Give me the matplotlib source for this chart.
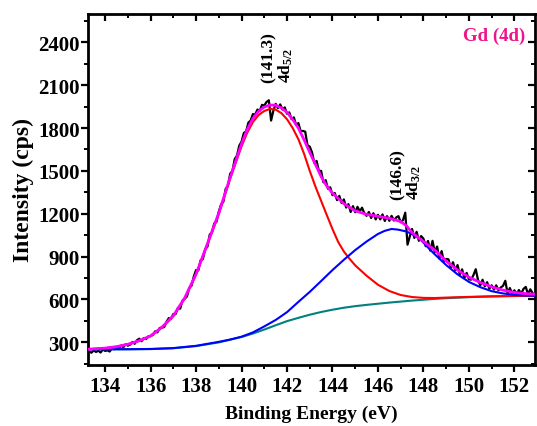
import numpy as np
import matplotlib
matplotlib.use("Agg")
import matplotlib.pyplot as plt
from matplotlib.ticker import MultipleLocator

plt.rcParams['font.family'] = ['Liberation Serif', 'DejaVu Serif']
plt.rcParams['font.weight'] = 'bold'
plt.rcParams['mathtext.fontset'] = 'custom'
plt.rcParams['mathtext.rm'] = 'Liberation Serif:bold'
plt.rcParams['mathtext.default'] = 'rm'

# ---- measured spectrum (counts), 0.1 eV steps starting at 133.3 eV ----
energy_start = 133.3
energy_step = 0.1
counts = [
    232, 226, 242, 231, 240, 227, 248, 238,
    242, 234, 256, 250, 266, 251, 276, 263, 285, 275,
    282, 301, 288, 313, 324, 306, 328, 321, 340, 342,
    350, 376, 368, 399, 401, 406, 442, 468, 464, 497,
    496, 540, 534, 590, 604, 620, 680, 695, 760, 805,
    803, 874, 882, 951, 968, 1053, 1070, 1132, 1144, 1215,
    1265, 1283, 1373, 1395, 1480, 1500, 1583, 1608, 1677, 1705,
    1765, 1777, 1838, 1853, 1898, 1895, 1930, 1920, 1963, 1958,
    1983, 1995, 1853, 1922, 1970, 1940, 1966, 1930, 1945, 1900,
    1910, 1863, 1875, 1822, 1835, 1778, 1780, 1775, 1680, 1670,
    1630, 1555, 1570, 1500, 1500, 1420, 1435, 1375, 1385, 1330,
    1345, 1295, 1325, 1275, 1300, 1243, 1267, 1212, 1253, 1210,
    1248, 1217, 1242, 1203, 1185, 1212, 1170, 1203, 1160, 1192,
    1160, 1195, 1149, 1183, 1150, 1185, 1152, 1173, 1183, 1140,
    1155, 1207, 983, 1040, 1093, 1030, 1073, 1010, 1043, 1025,
    972, 1009, 941, 1010, 930, 970, 885, 938, 864, 883,
    880, 822, 860, 803, 840, 775, 810, 750, 785, 740,
    738, 770, 811, 735, 698, 737, 691, 720, 674, 698,
    668, 698, 663, 683, 694, 730, 642, 679, 641, 663,
    636, 665, 639, 673, 687, 636, 670, 643,
]

# ---- fitted envelope (magenta) ----
env_x = [133.25, 134, 134.5, 135, 135.5, 136, 136.5, 137, 137.5, 138, 138.5, 139,
         139.5, 140, 140.25, 140.5, 140.75, 141, 141.25, 141.5, 141.75, 142, 142.25,
         142.5, 142.75, 143, 143.25, 143.5, 143.75, 144, 144.5, 145, 145.5, 146,
         146.5, 147, 147.25, 147.5, 147.75, 148, 148.5, 149, 149.5, 150, 150.5,
         151, 151.5, 152, 152.5, 152.9]
env_y = [250, 258, 268, 285, 310, 344, 405, 485, 610, 777, 990, 1205,
         1455, 1690, 1790, 1868, 1918, 1948, 1962, 1960, 1942, 1910, 1860,
         1800, 1718, 1630, 1545, 1460, 1393, 1345, 1270, 1220, 1195, 1182,
         1168, 1145, 1115, 1068, 1035, 1005, 945, 868, 805, 755, 718,
         688, 664, 648, 640, 636]

# ---- 4d5/2 component (red) ----
red_x = [133.25, 134, 134.5, 135, 135.5, 136, 136.5, 137, 137.5, 138, 138.5, 139,
         139.5, 140, 140.25, 140.5, 140.75, 141, 141.25, 141.5, 141.75, 142, 142.25,
         142.5, 142.75, 143, 143.25, 143.5, 143.75, 144, 144.25, 144.5, 144.75, 145,
         145.5, 146, 146.5, 147, 147.5, 148, 148.5, 149, 150, 151, 152, 152.9]
red_y = [250, 257, 267, 284, 308, 342, 402, 482, 605, 773, 984, 1198,
         1445, 1672, 1768, 1842, 1892, 1920, 1934, 1930, 1905, 1862, 1800,
         1722, 1620, 1500, 1390, 1290, 1190, 1092, 1002, 935, 884, 838,
         765, 702, 658, 630, 616, 610, 609, 612, 617, 621, 624, 625]

# ---- 4d3/2 component (blue) ----
blue_x = [133.25, 135, 136, 137, 138, 139, 139.5, 140, 140.5, 141, 141.5, 142, 142.5,
          143, 143.5, 144, 144.5, 145, 145.5, 146, 146.3, 146.6, 146.9, 147.25,
          147.5, 147.85, 148.25, 148.5, 149, 149.5, 150, 150.5, 151, 151.5, 152,
          152.5, 152.9]
blue_y = [250, 250, 252, 258, 274, 302, 318, 338, 368, 410, 455, 510, 582,
          652, 728, 805, 877, 945, 1005, 1058, 1080, 1093, 1088, 1075,
          1058, 1022, 955, 915, 840, 775, 722, 685, 657, 641, 632,
          627, 625]

# ---- background (teal) ----
bg_x = [133.25, 135, 136, 137, 138, 139, 140, 140.5, 141, 141.5, 142, 142.5, 143,
        143.5, 144, 144.5, 145, 145.5, 146, 146.5, 147, 147.5, 148, 148.5, 149,
        150, 151, 152, 152.9]
bg_y = [250, 250, 251, 257, 272, 298, 336, 360, 388, 418, 447, 470, 492,
        511, 527, 541, 552, 561, 569, 577, 584, 591, 597, 603, 608,
        615, 620, 623, 625]

x_ticks = [134, 136, 138, 140, 142, 144, 146, 148, 150, 152]
y_ticks = [300, 600, 900, 1200, 1500, 1800, 2100, 2400]

energy = energy_start + energy_step * np.arange(len(counts))

fig = plt.figure(figsize=(5.37, 4.27), dpi=100)
ax = fig.add_axes([0.164, 0.143, 0.832, 0.822])

ax.plot(energy, counts, color='black', lw=1.6, zorder=2)
ax.plot(bg_x, bg_y, color='#008080', lw=1.5, zorder=3)
ax.plot(red_x, red_y, color='red', lw=1.5, zorder=3)
ax.plot(blue_x, blue_y, color='blue', lw=1.5, zorder=3)
ax.plot(env_x, env_y, color='#ff00ff', lw=2.0, zorder=4)

ax.set_xlim(133.25, 152.9)
ax.set_ylim(140, 2600)
ax.set_xticks(x_ticks)
ax.set_yticks(y_ticks)
ax.xaxis.set_minor_locator(MultipleLocator(1))
ax.yaxis.set_minor_locator(MultipleLocator(150))

for s in ax.spines.values():
    s.set_linewidth(2.0)

ax.tick_params(axis='both', which='major', direction='out', length=5, width=1.6,
               labelsize=15)
ax.tick_params(axis='both', which='minor', direction='out', length=3, width=1.4)
ax.tick_params(axis='x', which='major', pad=3)
ax.tick_params(axis='y', which='major', pad=1)
ax.tick_params(axis='x', which='both', top=True)
ax.tick_params(axis='y', which='both', right=True)
# top/right ticks point inward
for t in ax.xaxis.get_major_ticks() + ax.xaxis.get_minor_ticks():
    t.tick2line.set_marker(3)  # TICKDOWN
for t in ax.yaxis.get_major_ticks() + ax.yaxis.get_minor_ticks():
    t.tick2line.set_marker(0)  # TICKLEFT
for lab in ax.get_xticklabels() + ax.get_yticklabels():
    lab.set_fontweight('bold')

ax.set_xlabel('Binding Energy (eV)', fontsize=14, fontweight='bold', labelpad=6)
ax.set_ylabel('Intensity (cps)', fontsize=17, fontweight='bold', labelpad=3)

ax.text(0.978, 0.94, 'Gd (4d)', transform=ax.transAxes, ha='right', va='center',
        fontsize=13.5, fontweight='bold', color='#f0148c')

ax.text(141.6, 2126, '(141.3)\n4d$_{5/2}$', rotation=90, ha='center', va='bottom',
        multialignment='left', fontsize=12.5, fontweight='bold', linespacing=0.95)
ax.text(147.26, 1304, '(146.6)\n4d$_{3/2}$', rotation=90, ha='center', va='bottom',
        multialignment='left', fontsize=12.5, fontweight='bold', linespacing=0.95)

fig.savefig('out.png', dpi=100)
